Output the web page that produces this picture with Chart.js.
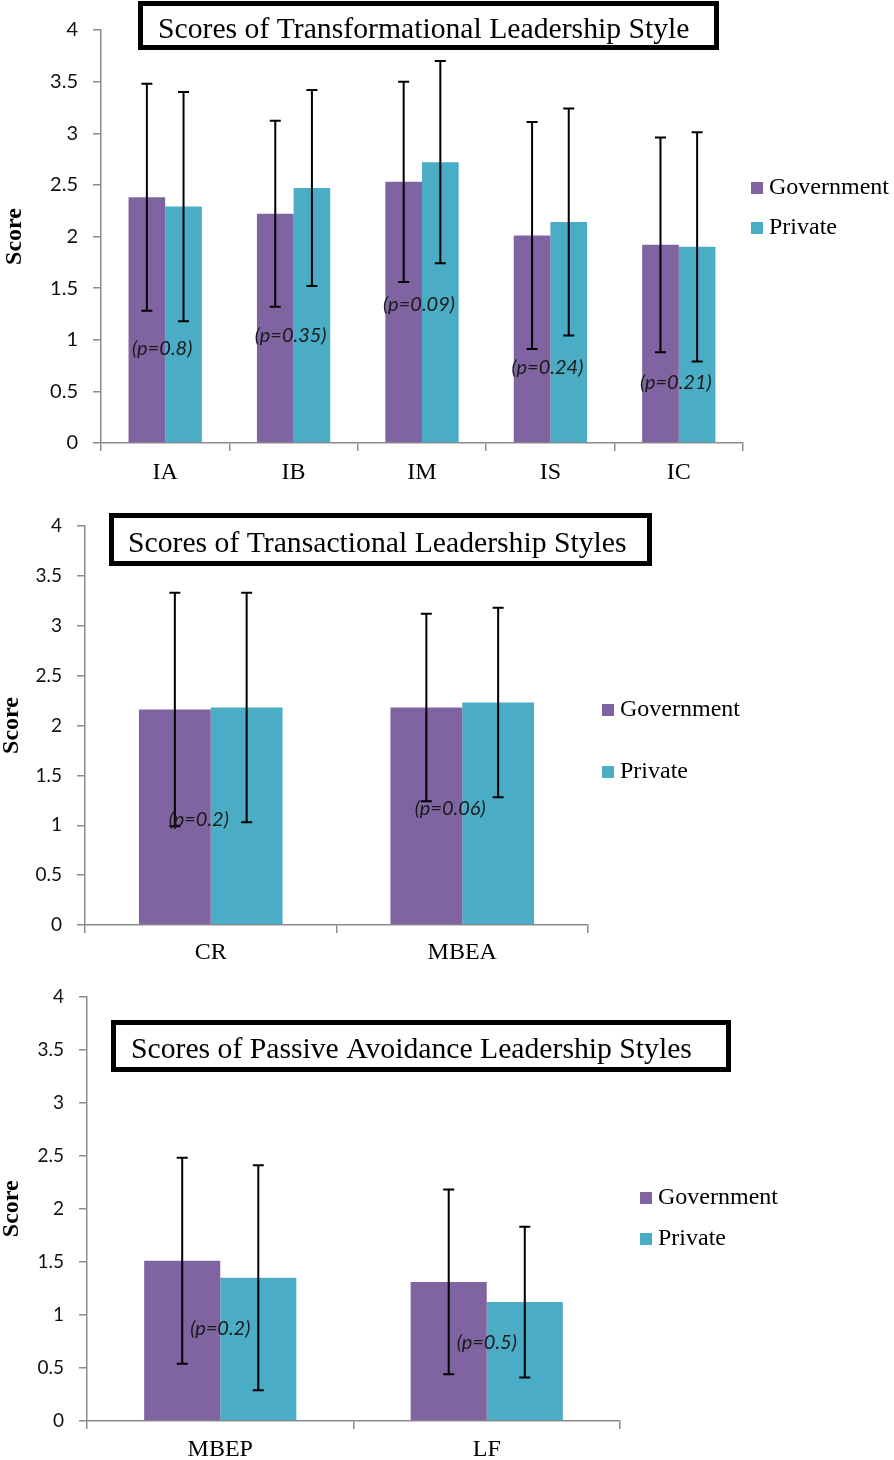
<!DOCTYPE html>
<html>
<head>
<meta charset="utf-8">
<script src="https://cdn.jsdelivr.net/npm/chart.js@4.4.0/dist/chart.umd.min.js"></script>
<style>
  html, body { margin: 0; padding: 0; background: #fff; }
  #page { position: relative; width: 894px; height: 1460px; overflow: hidden; }
  .panel { position: absolute; left: 0; width: 894px; }
</style>
</head>
<body>
<div id="page">
  <div class="panel" style="top:0px;height:490px"><canvas id="chartTransform" width="894" height="490"></canvas></div>
  <div class="panel" style="top:495px;height:475px"><canvas id="chartTransact" width="894" height="475"></canvas></div>
  <div class="panel" style="top:970px;height:490px"><canvas id="chartPassive" width="894" height="490"></canvas></div>
</div>
<script>
// === Dados ===
const seriesNames = ['Government', 'Private'];
const seriesColors = ['#8064A2', '#4BACC6'];

// Transformational
const transformCats = ['IA', 'IB', 'IM', 'IS', 'IC'];
const transformGov = [2.38, 2.22, 2.53, 2.01, 1.92];
const transformPri = [2.29, 2.47, 2.72, 2.14, 1.90];
const transformGovSd = [1.10, 0.90, 0.97, 1.10, 1.04];
const transformPriSd = [1.11, 0.95, 0.98, 1.10, 1.11];
const transformP = ['(p=0.8)', '(p=0.35)', '(p=0.09)', '(p=0.24)', '(p=0.21)'];
const transformPAt = [0.91, 1.04, 1.34, 0.73, 0.59];

// Transactional
const transactCats = ['CR', 'MBEA'];
const transactGov = [2.16, 2.18];
const transactPri = [2.18, 2.23];
const transactGovSd = [1.17, 0.94];
const transactPriSd = [1.15, 0.95];
const transactP = ['(p=0.2)', '(p=0.06)'];
const transactPAt = [1.06, 1.17];

// Passive avoidance
const passiveCats = ['MBEP', 'LF'];
const passiveGov = [1.51, 1.31];
const passivePri = [1.35, 1.12];
const passiveGovSd = [0.97, 0.87];
const passivePriSd = [1.06, 0.71];
const passiveP = ['(p=0.2)', '(p=0.5)'];
const passivePAt = [0.87, 0.74];

const yTicks = { min: 0, max: 4, step: 0.5 };

// === Plugins ===
const errorBars = {
  id: 'errorBars',
  afterDatasetsDraw(chart) {
    const { ctx } = chart;
    const y = chart.scales.y;
    ctx.save();
    ctx.strokeStyle = '#000';
    ctx.lineWidth = 2;
    chart.data.datasets.forEach((ds, i) => {
      chart.getDatasetMeta(i).data.forEach((bar, j) => {
        const v = ds.data[j], sd = ds.sd[j];
        const top = y.getPixelForValue(v + sd);
        const bot = y.getPixelForValue(v - sd);
        ctx.beginPath();
        ctx.moveTo(bar.x, top); ctx.lineTo(bar.x, bot);
        ctx.moveTo(bar.x - 5.5, top); ctx.lineTo(bar.x + 5.5, top);
        ctx.moveTo(bar.x - 5.5, bot); ctx.lineTo(bar.x + 5.5, bot);
        ctx.stroke();
      });
    });
    ctx.restore();
  }
};

const pLabels = {
  id: 'pLabels',
  afterDatasetsDraw(chart, args, opts) {
    const { ctx } = chart;
    ctx.save();
    ctx.font = 'italic 20px Lato';
    ctx.fillStyle = '#1a1a1a';
    ctx.textAlign = 'center';
    ctx.textBaseline = 'middle';
    opts.texts.forEach((t, j) => {
      const x = chart.scales.x.getPixelForValue(j) + (opts.dx || 0);
      const yy = chart.scales.y.getPixelForValue(opts.at[j]);
      ctx.fillText(t, x, yy);
    });
    ctx.restore();
  }
};

const titleBox = {
  id: 'titleBox',
  afterDraw(chart, args, o) {
    const { ctx } = chart;
    ctx.save();
    ctx.fillStyle = '#fff';
    ctx.fillRect(o.left, o.top, o.width, o.height);
    ctx.strokeStyle = '#000';
    ctx.lineWidth = 5;
    ctx.strokeRect(o.left + 2.5, o.top + 2.5, o.width - 5, o.height - 5);
    ctx.fillStyle = '#000';
    ctx.font = '29.7px "Liberation Serif"';
    ctx.textAlign = 'left';
    ctx.textBaseline = 'alphabetic';
    ctx.fillText(o.text, o.textX, o.baseline);
    ctx.restore();
  }
};

const sideLegend = {
  id: 'sideLegend',
  afterDraw(chart, args, o) {
    const { ctx } = chart;
    ctx.save();
    ctx.font = '24px "Liberation Serif"';
    ctx.textBaseline = 'middle';
    ctx.textAlign = 'left';
    chart.data.datasets.forEach((ds, i) => {
      const top = o.y + i * o.gap;
      ctx.fillStyle = ds.backgroundColor;
      ctx.fillRect(o.x, top, 12, 12);
      ctx.fillStyle = '#000';
      ctx.fillText(ds.label, o.x + 18, top + 6);
    });
    ctx.restore();
  }
};

// === Montar cada gráfico ===
function makeChart(id, s) {
  const canvas = document.getElementById(id);
  const H = canvas.height, W = canvas.width;
  return new Chart(canvas, {
    type: 'bar',
    data: {
      labels: s.cats,
      datasets: [
        { label: seriesNames[0], data: s.gov, sd: s.govSd, backgroundColor: seriesColors[0] },
        { label: seriesNames[1], data: s.pri, sd: s.priSd, backgroundColor: seriesColors[1] }
      ]
    },
    options: {
      responsive: false,
      animation: false,
      devicePixelRatio: 1,
      categoryPercentage: 0.571,
      barPercentage: 1.0,
      layout: { padding: { top: s.area.top, right: W - s.area.right, left: 0, bottom: 0 } },
      scales: {
        x: {
          ticks: { color: '#000', font: { family: 'Liberation Serif', size: 24 }, padding: s.xPad },
          grid: { drawOnChartArea: false, tickLength: 8, color: '#8c8c8c', lineWidth: 1.5, offset: true },
          border: { color: '#8c8c8c', width: 1.5 },
          afterFit: sc => { sc.height = H - s.area.bottom; }
        },
        y: {
          min: yTicks.min, max: yTicks.max,
          ticks: {
            stepSize: yTicks.step, color: '#111', padding: 15,
            font: { family: 'Lato', size: s.yFont },
            callback: v => String(v)
          },
          grid: { drawOnChartArea: false, tickLength: 8, color: '#8c8c8c', lineWidth: 1.5 },
          border: { color: '#8c8c8c', width: 1.5 },
          title: {
            display: true, text: 'Score', color: '#000',
            font: { family: 'Liberation Serif', size: 24, weight: 'bold', lineHeight: 1 },
            padding: { top: s.scorePad, bottom: 0 }
          },
          afterFit: sc => { sc.width = s.area.left; }
        }
      },
      plugins: {
        legend: { display: false },
        tooltip: { enabled: false },
        pLabels: { texts: s.p, at: s.pAt, dx: s.pDx },
        titleBox: s.box,
        sideLegend: s.legend
      }
    },
    plugins: [errorBars, pLabels, titleBox, sideLegend]
  });
}

makeChart('chartTransform', {
  cats: transformCats, gov: transformGov, pri: transformPri,
  govSd: transformGovSd, priSd: transformPriSd,
  p: transformP, pAt: transformPAt, pDx: -3,
  area: { left: 101, right: 743, top: 30, bottom: 443 },
  xPad: 7, yFont: 20, scorePad: 2.5,
  box: { left: 138, top: 1, width: 581, height: 49, text: 'Scores of Transformational Leadership Style', textX: 158, baseline: 38 },
  legend: { x: 751, y: 182, gap: 40 }
});

makeChart('chartTransact', {
  cats: transactCats, gov: transactGov, pri: transactPri,
  govSd: transactGovSd, priSd: transactPriSd,
  p: transactP, pAt: transactPAt, pDx: -12,
  area: { left: 85, right: 588, top: 31, bottom: 430 },
  xPad: 5.6, yFont: 19, scorePad: 0,
  box: { left: 109, top: 18, width: 543, height: 53, text: 'Scores of Transactional Leadership Styles', textX: 128, baseline: 57 },
  legend: { x: 602, y: 209, gap: 62 }
});

makeChart('chartPassive', {
  cats: passiveCats, gov: passiveGov, pri: passivePri,
  govSd: passiveGovSd, priSd: passivePriSd,
  p: passiveP, pAt: passivePAt, pDx: 0,
  area: { left: 87, right: 620, top: 20, bottom: 451 },
  xPad: 6.6, yFont: 19, scorePad: 0,
  box: { left: 111, top: 50, width: 620, height: 52, text: 'Scores of Passive Avoidance Leadership Styles', textX: 131, baseline: 88 },
  legend: { x: 640, y: 222, gap: 41 }
});
</script>
</body>
</html>
